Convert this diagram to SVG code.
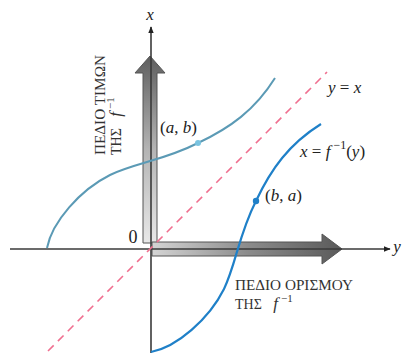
<svg xmlns="http://www.w3.org/2000/svg" width="405" height="360" viewBox="0 0 405 360">
<style>
.ax{stroke:#3a3a3a;stroke-width:1.6;fill:none}
text{font-family:"Liberation Serif","DejaVu Serif","Times New Roman",serif}
.lbl{fill:#222}
.it{font-style:italic}
.cap{fill:#333;font-size:14px}
</style>
<defs>
<marker id="ah" viewBox="0 0 10 10" refX="9" refY="5" markerWidth="7" markerHeight="7" orient="auto" markerUnits="userSpaceOnUse">
<path d="M0,1 L10,5 L0,9 Z" fill="#222"/>
</marker>
<linearGradient id="gv" x1="0" y1="1" x2="0" y2="0">
<stop offset="0" stop-color="#e8e8e8"/>
<stop offset="0.5" stop-color="#b4b4b4"/>
<stop offset="1" stop-color="#5e5e5e"/>
</linearGradient>
<linearGradient id="gh" x1="0" y1="0" x2="1" y2="0">
<stop offset="0" stop-color="#d4d4d4"/>
<stop offset="0.5" stop-color="#8c8c8c"/>
<stop offset="1" stop-color="#5a5a5a"/>
</linearGradient>
</defs>
<rect width="405" height="360" fill="#ffffff"/>

<g id="range-arrow">
<path d="M143,243 L143,73 L135,73 L150,56 L165,73 L157,73 L157,243 Z" fill="url(#gv)" stroke="#555" stroke-width="1"/>
</g>
<g id="domain-arrow">
<path d="M152,242 L322,242 L322,234 L342,249 L322,264 L322,256 L152,256 Z" fill="url(#gh)" stroke="#555" stroke-width="1"/>
</g>

<g id="connectors">
<line class="ax" x1="10" y1="249" x2="390" y2="249" marker-end="url(#ah)"/>
<line class="ax" x1="151" y1="353" x2="151" y2="27" marker-end="url(#ah)"/>
<line x1="48" y1="351" x2="327" y2="72" stroke="#f07090" stroke-width="1.6" stroke-dasharray="8,6"/>
</g>

<g id="curve-f">
<path d="M47,248 C52,222 80,190 110,175 C135,163 165,160 198,143 C230,128 255,110 275,78" fill="none" stroke="#5b9ab5" stroke-width="2"/>
<circle cx="198" cy="143" r="3" fill="#79c3e0"/>
</g>
<g id="curve-finv">
<path d="M151,352 C177,347 209,319 224,289 C236,264 239,234 256,201 C271,169 289,144 321,124" fill="none" stroke="#1f80c8" stroke-width="2.2"/>
<circle cx="256" cy="201" r="3.2" fill="#1f80c8"/>
</g>

<g id="labels">
<text class="lbl it" x="150" y="20" font-size="17" text-anchor="middle">x</text>
<text class="lbl it" x="397" y="252" font-size="17" text-anchor="middle">y</text>
<text class="lbl" x="133" y="243" font-size="18" text-anchor="middle">0</text>
<text class="lbl" x="160" y="133" font-size="17">(<tspan class="it">a</tspan>, <tspan class="it">b</tspan>)</text>
<text class="lbl" x="265" y="201" font-size="17">(<tspan class="it">b</tspan>, <tspan class="it">a</tspan>)</text>
<text class="lbl" x="328" y="93" font-size="17"><tspan class="it">y</tspan> = <tspan class="it">x</tspan></text>
<text class="lbl" x="300" y="157" font-size="17"><tspan class="it">x</tspan> = <tspan class="it">f</tspan><tspan font-size="12" dx="3" dy="-8">−1</tspan><tspan dy="8">(</tspan><tspan class="it">y</tspan>)</text>
</g>

<g id="domain-label">
<text class="cap" x="235" y="290" textLength="118" lengthAdjust="spacingAndGlyphs">ΠΕΔΙΟ ΟΡΙΣΜΟΥ</text>
<text class="cap" x="235" y="309">ΤΗΣ <tspan class="it" dx="8" font-size="17">f</tspan><tspan font-size="11" dx="3" dy="-7">−1</tspan></text>
</g>
<g id="range-label">
<text class="cap" transform="translate(105,155) rotate(-90)" x="0" y="0" textLength="100" lengthAdjust="spacingAndGlyphs">ΠΕΔΙΟ ΤΙΜΩΝ</text>
<text class="cap" transform="translate(121,155) rotate(-90)" x="0" y="0">ΤΗΣ <tspan class="it" dx="8" font-size="17">f</tspan><tspan font-size="11" dx="3" dy="-7">−1</tspan></text>
</g>
</svg>
